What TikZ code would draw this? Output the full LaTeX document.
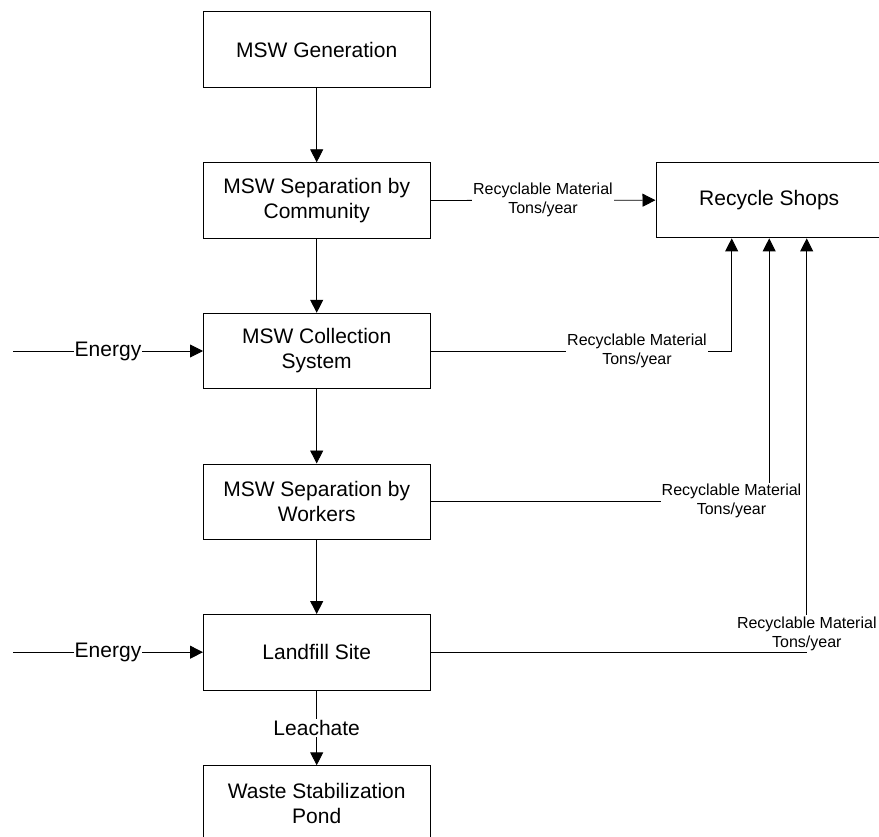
\documentclass[tikz,border=0pt]{standalone}
\usepackage{fontspec}
\setmainfont{Liberation Sans}
\usetikzlibrary{arrows.meta}
\tikzset{
  procbox/.style={draw, line width=0.9pt, minimum width=226.5pt, minimum height=75.5pt,
    inner sep=0pt, align=center, font=\fontsize{21}{25}\selectfont},
  arr/.style={line width=0.9pt, -{Triangle[length=13pt,width=13pt]}},
  plain/.style={line width=0.9pt},
  smalllbl/.style={fill=white, inner xsep=1pt, inner ysep=1.5pt, align=center,
    font=\fontsize{16}{19}\selectfont},
  biglbl/.style={fill=white, inner xsep=0.5pt, inner ysep=1pt, align=center,
    font=\fontsize{21}{25}\selectfont}
}
\begin{document}
\begin{tikzpicture}[x=1pt,y=-1pt]
\clip (0,0) rectangle (879,837);
\fill[white] (0,0) rectangle (879,837);

\node[procbox] (gen)  at (316.7,49.5)  {MSW Generation};
\node[procbox] (comm) at (316.7,200.5) {MSW Separation by\\Community};
\node[procbox] (coll) at (316.7,351)   {MSW Collection\\System};
\node[procbox] (work) at (316.7,501.7) {MSW Separation by\\Workers};
\node[procbox] (land) at (316.7,652.2) {Landfill Site};
\node[procbox] (pond) at (316.7,803.5) {Waste Stabilization\\Pond};
\node[procbox] (shops) at (769.2,200.2) {Recycle Shops};

% main chain
\draw[arr] (gen) -- (comm);
\draw[arr] (comm) -- (coll);
\draw[arr] (coll) -- (work);
\draw[arr] (work) -- (land);
\draw[arr] (land) -- (pond) node[midway, biglbl] {Leachate};

% energy inputs
\coordinate (e1) at (13,351);
\coordinate (e2) at (13,652.2);
\draw[arr] (e1) -- (coll.west) node[midway, biglbl] {Energy};
\draw[arr] (e2) -- (land.west) node[midway, biglbl] {Energy};

% recyclable flows
\draw[arr] (comm.east) -- (shops.west) node[midway, smalllbl] {Recyclable Material\\Tons/year};

\coordinate (k1) at (731.7,351);
\draw[arr] (coll.east) -- (k1) -- (k1 |- shops.south);
\node[smalllbl] (l1) at (637,350.5) {Recyclable Material\\Tons/year};

\coordinate (k2) at (769.2,501.7);
\draw[arr] (work.east) -- (k2) -- (k2 |- shops.south);
\node[smalllbl] (l2) at (731.5,501.2) {Recyclable Material\\Tons/year};

\coordinate (k3) at (806.7,652.7);
\draw[arr] (land.east |- k3) -- (k3) -- (k3 |- shops.south);
\node[smalllbl] (l3) at (806.8,633.5) {Recyclable Material\\Tons/year};
\end{tikzpicture}
\end{document}
